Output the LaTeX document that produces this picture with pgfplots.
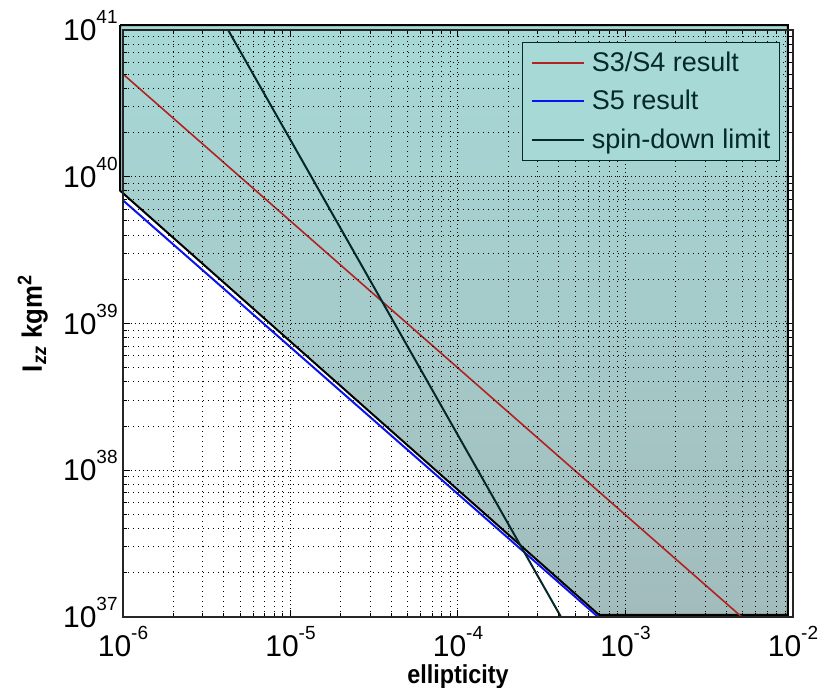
\documentclass[border=0pt]{standalone}
\usepackage{fontspec}
\setmainfont{Liberation Sans}
\usepackage{pgfplots}
\pgfplotsset{compat=1.18}
\definecolor{s34red}{RGB}{178,34,34}
\definecolor{s5blue}{RGB}{10,20,240}
\definecolor{sdteal}{RGB}{5,40,40}
\definecolor{filltop}{RGB}{167,217,215}
\definecolor{fillbot}{RGB}{162,188,188}
% tick label: 10 with raised exponent
\newcommand{\pw}[1]{10\raisebox{8.5pt}{\fontsize{9.5}{9.5}\selectfont #1}}

\begin{document}
\begin{tikzpicture}
\begin{loglogaxis}[
    name=ax,
    scale only axis,
    width=335pt, height=293.5pt,
    xmin=1e-6, xmax=1e-2,
    ymin=1e37, ymax=1e41,
    xtick={1e-6,1e-5,1e-4,1e-3,1e-2},
    xticklabels={\pw{-6},\pw{-5},\pw{-4},\pw{-3},\pw{-2}},
    ytick={1e37,1e38,1e39,1e40,1e41},
    yticklabels={\pw{37},\pw{38},\pw{39},\pw{40},\pw{41}},
    minor xtick={2e-6,3e-6,4e-6,5e-6,6e-6,7e-6,8e-6,9e-6,
                 2e-5,3e-5,4e-5,5e-5,6e-5,7e-5,8e-5,9e-5,
                 2e-4,3e-4,4e-4,5e-4,6e-4,7e-4,8e-4,9e-4,
                 2e-3,3e-3,4e-3,5e-3,6e-3,7e-3,8e-3,9e-3},
    minor ytick={2e37,3e37,4e37,5e37,6e37,7e37,8e37,9e37,
                 2e38,3e38,4e38,5e38,6e38,7e38,8e38,9e38,
                 2e39,3e39,4e39,5e39,6e39,7e39,8e39,9e39,
                 2e40,3e40,4e40,5e40,6e40,7e40,8e40,9e40},
    ticklabel style={font=\fontsize{15}{15}\selectfont, inner sep=0pt},
    xticklabel style={anchor=base, yshift=-20pt},
    yticklabel style={anchor=base east, xshift=-2.5pt, yshift=-5.3pt},
    grid=both,
    major grid style={black, line width=0.5pt, dash pattern=on 0.6pt off 1.4pt},
    minor grid style={black, line width=0.5pt, dash pattern=on 0.5pt off 2pt},
    axis line style={black!85, line width=0.6pt},
    tick style={black, line width=0.5pt},
    major tick length=3.5pt, minor tick length=2pt,
    axis on top,
    clip=false,
    xlabel={\scalebox{0.9}[1]{\textbf{ellipticity}}},
    xlabel style={at={(axis description cs:0.5,-0.1141)}, anchor=base,
        inner sep=0pt, font=\fontsize{13}{13}\selectfont},
    ylabel={\scalebox{0.92}[1]{\textbf{I\textsubscript{\textit{zz}} kgm\textsuperscript{2}}}},
    ylabel style={at={(axis description cs:-0.121,0.5)}, anchor=base,
        inner sep=0pt, font=\fontsize{14}{14}\selectfont},
    legend style={at={(0.9806,0.9796)}, anchor=north east,
        fill=filltop, draw=sdteal, line width=0.6pt, text=sdteal,
        font=\fontsize{13.5}{16}\selectfont,
        inner xsep=4pt, inner ysep=4pt, row sep=7pt,
        nodes={inner sep=0.5pt},
        /tikz/every odd column/.append style={column sep=3pt}},
    legend cell align=left,
    legend image code/.code={\draw[#1] (0pt,0pt) -- (26pt,0pt);},
]
% shaded excluded region
\addplot[forget plot, draw=black, line width=1pt, line join=miter,
    top color=filltop, bottom color=fillbot]
    coordinates {(9.6e-7,1.08e41) (9.33e-3,1.08e41) (9.33e-3,1.032e37)
                 (6.95e-4,1.032e37) (9.6e-7,8.04e39) (9.6e-7,1.08e41)};
\addplot[s34red, line width=0.8pt] coordinates {(1e-6,5e40) (4.94e-3,1e37)};
\addlegendentry{S3/S4 result}
\addplot[s5blue, line width=1pt] coordinates {(1e-6,6.9e39) (6.86e-4,1e37)};
\addlegendentry{S5 result}
\addplot[sdteal, line width=1pt] coordinates {(4.24e-6,1e41) (4.12e-4,1e37)};
\addlegendentry{spin-down limit}
\end{loglogaxis}
\pgfresetboundingbox
\path[use as bounding box] ([xshift=-61.5pt,yshift=-35.5pt]ax.south west)
    rectangle ([xshift=17pt,yshift=15pt]ax.north east);
\end{tikzpicture}
\end{document}
